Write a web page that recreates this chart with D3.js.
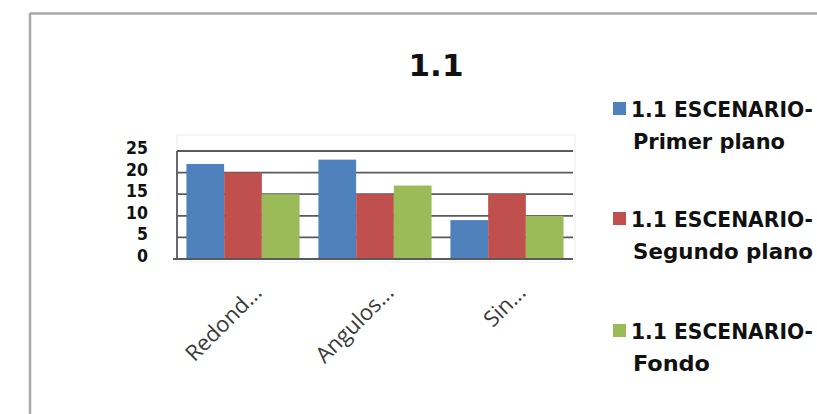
<!DOCTYPE html>
<html>
<head>
<meta charset="utf-8">
<script src="https://cdn.jsdelivr.net/npm/d3@7"></script>
<style>
  html, body { margin: 0; padding: 0; background: #fff; }
  svg { display: block; }
</style>
</head>
<body>
<svg id="chart" width="817" height="414"></svg>
<script>
// Chart data
const categories = ["Redond...", "Angulos...", "Sin..."];
const seriesNames = [
  ["1.1 ESCENARIO-", "Primer plano"],
  ["1.1 ESCENARIO-", "Segundo plano"],
  ["1.1 ESCENARIO-", "Fondo"]
];
const primerPlano = [22, 23, 9];
const segundoPlano = [20, 15, 15];
const fondo = [15, 17, 10];
const yTicks = [0, 5, 10, 15, 20, 25];
const title = "1.1";

const seriesValues = [primerPlano, segundoPlano, fondo];
const colors = ["#4F81BD", "#C0504D", "#9BBB59"];

const svg = d3.select("#chart");

// Outer chart frame (top and left edges visible)
svg.append("line").attr("x1", 30).attr("x2", 817).attr("y1", 13.5).attr("y2", 13.5)
  .attr("stroke", "#a8a8a8").attr("stroke-width", 2.5);
svg.append("line").attr("x1", 30).attr("x2", 30).attr("y1", 13).attr("y2", 414)
  .attr("stroke", "#a8a8a8").attr("stroke-width", 2.5);

// Plot area
const plot = { left: 177, right: 573, top: 151, bottom: 259 };

const x0 = d3.scaleBand().domain(categories).range([plot.left, plot.right]).paddingInner(0).paddingOuter(0);
const x1 = d3.scaleBand().domain(d3.range(seriesValues.length))
  .range([0, x0.bandwidth()]).paddingInner(0).paddingOuter(0.25);
const y = d3.scaleLinear().domain([0, 25]).range([plot.bottom, plot.top]);

// Faint plot-area border
svg.append("rect").attr("x", plot.left).attr("y", 135)
  .attr("width", plot.right - plot.left + 2).attr("height", plot.bottom - 135 + 3)
  .attr("fill", "none").attr("stroke", "#ececec").attr("stroke-width", 1);

// Gridlines
svg.append("g").selectAll("line").data(yTicks).join("line")
  .attr("x1", plot.left).attr("x2", plot.right)
  .attr("y1", d => y(d)).attr("y2", d => y(d))
  .attr("stroke", "#5a5a5a").attr("stroke-width", 1.8);

// Bars
const groups = svg.append("g").selectAll("g").data(categories).join("g")
  .attr("transform", c => `translate(${x0(c)},0)`);
groups.selectAll("rect")
  .data((c, ci) => seriesValues.map((vals, si) => ({ si, v: vals[ci] })))
  .join("rect")
  .attr("x", d => x1(d.si))
  .attr("width", x1.bandwidth())
  .attr("y", d => y(d.v))
  .attr("height", d => y(0) - y(d.v))
  .attr("fill", d => colors[d.si]);

// Value axis line
svg.append("line").attr("x1", plot.left).attr("x2", plot.left)
  .attr("y1", y(25)).attr("y2", y(0))
  .attr("stroke", "#5a5a5a").attr("stroke-width", 1.8);
svg.append("line").attr("x1", plot.left - 4).attr("x2", plot.right)
  .attr("y1", y(0)).attr("y2", y(0))
  .attr("stroke", "#5a5a5a").attr("stroke-width", 1.8);

// Y tick labels
svg.append("g").selectAll("text").data(yTicks).join("text")
  .attr("x", 148).attr("y", d => y(d) + 3)
  .attr("text-anchor", "end")
  .attr("font-family", "'DejaVu Sans Condensed', 'DejaVu Sans', sans-serif")
  .attr("font-weight", "bold").attr("font-size", 17.5)
  .attr("fill", "#111")
  .text(d => d);

// Category labels, rotated
svg.append("g").selectAll("text").data(categories).join("text")
  .attr("transform", c => `translate(${x0(c) + x0.bandwidth() / 2 + 20},${y(0) + 35}) rotate(-45)`)
  .attr("text-anchor", "end")
  .attr("font-family", "'Open Sans', 'Liberation Sans', sans-serif")
  .attr("font-size", 22)
  .attr("fill", "#3a3a3a")
  .text(c => c);

// Title
svg.append("text").attr("x", 436).attr("y", 76)
  .attr("text-anchor", "middle")
  .attr("font-family", "'DejaVu Sans', sans-serif")
  .attr("font-weight", "bold").attr("font-size", 31)
  .attr("fill", "#111")
  .text(title);

// Legend
const legendTop = [117, 227, 339];
const legendLine1Len = 182;
const legendLine2Len = [152, 180, 77];
const legend = svg.append("g").selectAll("g").data(seriesNames).join("g");
legend.append("rect")
  .attr("x", 613).attr("y", (d, i) => legendTop[i] - 15)
  .attr("width", 13).attr("height", 13)
  .attr("fill", (d, i) => colors[i]);
legend.append("text")
  .attr("x", 631).attr("y", (d, i) => legendTop[i])
  .attr("font-family", "'DejaVu Sans Condensed', 'DejaVu Sans', sans-serif")
  .attr("font-weight", "bold").attr("font-size", 21)
  .attr("fill", "#111")
  .attr("textLength", legendLine1Len).attr("lengthAdjust", "spacingAndGlyphs")
  .text(d => d[0]);
legend.append("text")
  .attr("x", 633).attr("y", (d, i) => legendTop[i] + 32)
  .attr("font-family", "'DejaVu Sans Condensed', 'DejaVu Sans', sans-serif")
  .attr("font-weight", "bold").attr("font-size", 21)
  .attr("fill", "#111")
  .attr("textLength", (d, i) => legendLine2Len[i]).attr("lengthAdjust", "spacingAndGlyphs")
  .text(d => d[1]);
</script>
</body>
</html>
